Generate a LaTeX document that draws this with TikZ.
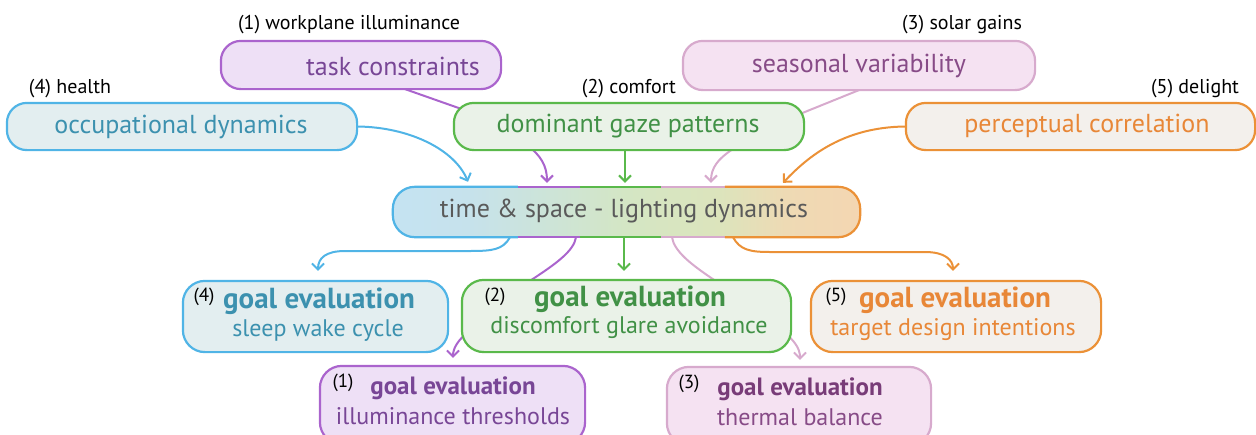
\documentclass[tikz,border=0pt]{standalone}
\usepackage{fontspec}
\setmainfont{PT Sans}
\usetikzlibrary{arrows.meta,calc}

% palette
\definecolor{bStroke}{RGB}{80,180,230}
\definecolor{bFill}{RGB}{227,238,240}
\definecolor{bText}{RGB}{60,145,175}
\definecolor{pStroke}{RGB}{170,100,205}
\definecolor{pFill}{RGB}{238,224,246}
\definecolor{pText}{RGB}{120,70,150}
\definecolor{gStroke}{RGB}{90,185,75}
\definecolor{gFill}{RGB}{234,242,232}
\definecolor{gText}{RGB}{65,145,70}
\definecolor{kStroke}{RGB}{215,170,205}
\definecolor{kFill}{RGB}{245,226,242}
\definecolor{kText}{RGB}{135,75,135}
\definecolor{kTitle}{RGB}{120,60,120}
\definecolor{oStroke}{RGB}{235,145,55}
\definecolor{oFill}{RGB}{243,240,236}
\definecolor{oText}{RGB}{232,135,55}
\definecolor{midText}{RGB}{90,90,90}

% stops of the blended fill of the central box
\definecolor{shA}{RGB}{197,227,242}
\definecolor{shB}{RGB}{198,226,236}
\definecolor{shC}{RGB}{205,228,215}
\definecolor{shD}{RGB}{212,230,196}
\definecolor{shE}{RGB}{220,228,188}
\definecolor{shF}{RGB}{238,218,180}
\definecolor{shG}{RGB}{244,214,178}
\pgfdeclarehorizontalshading{dynshade}{100bp}{%
  color(0bp)=(shA); color(25bp)=(shA); color(33bp)=(shB);
  color(42bp)=(shC); color(50bp)=(shD); color(60bp)=(shE);
  color(67bp)=(shF); color(75bp)=(shG); color(100bp)=(shG)}

\tikzset{
  box/.style={rectangle, rounded corners=20pt, line width=2.2pt, inner sep=0pt},
  goalbox/.style={rectangle, rounded corners=22pt, line width=2.2pt, inner sep=0pt},
  boxtext/.style={inner sep=0pt, font=\fontsize{26}{30}\selectfont},
  tag/.style={inner sep=0pt, font=\fontsize{20}{24}\selectfont, text=black},
  numtag/.style={inner sep=0pt, font=\fontsize{19}{22}\selectfont, text=black},
  goaltitle/.style={inner sep=0pt, font=\fontsize{29}{32}\selectfont\bfseries},
  goalsub/.style={inner sep=0pt, font=\fontsize{24}{28}\selectfont},
  smalltitle/.style={inner sep=0pt, font=\fontsize{25}{28}\selectfont\bfseries},
  link/.style={line width=2pt, -{Straight Barb[length=6pt,width=12pt]}},
}

\begin{document}
\begin{tikzpicture}[x=1pt,y=-1pt]
\useasboundingbox (0,0) rectangle (1256,434);
\clip (0,0) rectangle (1256,434);

% ---------- node frames (positions only, drawn later) ----------
\path
  (361,65)    node[box, minimum width=278pt, minimum height=46pt] (task) {}
  (859,65.5)  node[box, minimum width=350pt, minimum height=47pt] (seas) {}
  (182,126.5) node[box, minimum width=348pt, minimum height=45pt] (occ) {}
  (629,126.5) node[box, minimum width=348pt, minimum height=45pt] (gaze) {}
  (1080.5,126.5) node[box, minimum width=347pt, minimum height=45pt] (perc) {}
  (626.5,212) node[rectangle, minimum width=467pt, minimum height=50pt, inner sep=0pt] (ctr) {}
  (315.5,316.5) node[goalbox, minimum width=263pt, minimum height=69pt] (g4) {}
  (626.5,316) node[goalbox, minimum width=327pt, minimum height=70pt] (g2) {}
  (956,316.5) node[goalbox, minimum width=288pt, minimum height=69pt] (g5) {}
  (452.5,405) node[goalbox, minimum width=263pt, minimum height=76pt] (g1) {}
  (799,406)   node[goalbox, minimum width=262pt, minimum height=76pt] (g3) {};

% ---------- connectors (under the boxes) ----------
\draw[link, pStroke] ([xshift=44pt]task.south) -- (470,112)
  .. controls (520,140) and (547,150) .. ([xshift=-79.5pt,yshift=4pt]ctr.north);
\draw[link, kStroke] (seas.south) -- (790,118)
  .. controls (740,145) and (711,155) .. ([xshift=84.5pt,yshift=4pt]ctr.north);
\draw[link, gStroke] ([xshift=-4pt]gaze.south) -- ([xshift=-1.5pt,yshift=4pt]ctr.north);
\draw[link, bStroke] (occ.east)
  .. controls (410,127) and (455,150) .. ([xshift=-158.5pt,yshift=5pt]ctr.north);
\draw[link, oStroke] (perc.west)
  .. controls (840,127) and (805,160) .. ([xshift=156.5pt,yshift=4pt]ctr.north);

\draw[link, bStroke] ([xshift=-116.5pt]ctr.south)
  .. controls (503,250) and (492,251) .. (470,251) -- (345,251)
  .. controls (326,251) and (318,258) .. ([xshift=2.5pt,yshift=10pt]g4.north);
\draw[link, pStroke] ([xshift=-50.5pt]ctr.south)
  .. controls (572,265) and (500,290) .. (470,330)
  .. controls (458,340) and (453,348) .. ([xshift=0.5pt,yshift=8pt]g1.north);
\draw[link, gStroke] ([xshift=-2.5pt]ctr.south) -- ([xshift=-2.5pt,yshift=9pt]g2.north);
\draw[link, kStroke] ([xshift=45.5pt]ctr.south)
  .. controls (676,265) and (740,290) .. (775,325)
  .. controls (795,340) and (800,348) .. ([xshift=1pt,yshift=7pt]g3.north);
\draw[link, oStroke] ([xshift=106.5pt]ctr.south)
  .. controls (740,250) and (750,252) .. (770,252) -- (925,252)
  .. controls (945,252) and (953,260) .. ([xshift=-3pt,yshift=10pt]g5.north);

% ---------- boxes ----------
\foreach \n/\s/\f in {task/pStroke/pFill, seas/kStroke/kFill, occ/bStroke/bFill,
                      gaze/gStroke/gFill, perc/oStroke/oFill}{
  \draw[line width=2.2pt, rounded corners=20pt, draw=\s, fill=\f]
    (\n.north west) rectangle (\n.south east);
}
\foreach \n/\s/\f in {g4/bStroke/bFill, g2/gStroke/gFill, g5/oStroke/oFill,
                      g1/pStroke/pFill, g3/kStroke/kFill}{
  \draw[line width=2.2pt, rounded corners=22pt, draw=\s, fill=\f]
    (\n.north west) rectangle (\n.south east);
}

% central box: blended fill, border in five coloured stretches
\shade[shading=dynshade, rounded corners=22pt]
  (ctr.north west) rectangle (ctr.south east);
\draw[line width=2.2pt, bStroke, rounded corners=22pt]
  ([xshift=125pt]ctr.north west) -- (ctr.north west) -- (ctr.south west)
  -- ([xshift=125pt]ctr.south west);
\draw[line width=2.2pt, pStroke]
  ([xshift=125pt]ctr.north west) -- ([xshift=187pt]ctr.north west)
  ([xshift=125pt]ctr.south west) -- ([xshift=187pt]ctr.south west);
\draw[line width=2.2pt, gStroke]
  ([xshift=187pt]ctr.north west) -- ([xshift=268pt]ctr.north west)
  ([xshift=187pt]ctr.south west) -- ([xshift=268pt]ctr.south west);
\draw[line width=2.2pt, kStroke]
  ([xshift=268pt]ctr.north west) -- ([xshift=332pt]ctr.north west)
  ([xshift=268pt]ctr.south west) -- ([xshift=332pt]ctr.south west);
\draw[line width=2.2pt, oStroke, rounded corners=22pt]
  ([xshift=332pt]ctr.north west) -- (ctr.north east) -- (ctr.south east)
  -- ([xshift=332pt]ctr.south west);

% ---------- texts ----------
\node[boxtext, text=pText] (taskT) at (393,66) {task constraints};
\node[boxtext, text=kText] (seasT) at (859,66) {seasonal variability};
\node[boxtext, text=bText] (occT) at (181,127) {occupational dynamics};
\node[boxtext, text=gText] (gazeT) at (628,126) {dominant gaze patterns};
\node[boxtext, text=oText] (percT) at (1087,126) {perceptual correlation};
\node[boxtext, text=midText] (ctrT) at (624,211) {time \& space - lighting dynamics};

\node[tag] (tag1) at (349,25) {(1) workplane illuminance};
\node[tag] (tag3) at (962,25) {(3) solar gains};
\node[tag] (tag4) at (70,89) {(4) health};
\node[tag] (tag2) at (629,89) {(2) comfort};
\node[tag] (tag5) at (1195,89) {(5) delight};

\node[numtag] (n4) at (204,297) {(4)};
\node[goaltitle, text=bText] (g4a) at (319,301) {goal evaluation};
\node[goalsub, text=bText] (g4b) at (318,331) {sleep wake cycle};

\node[numtag] (n2) at (495,297) {(2)};
\node[goaltitle, text=gText] (g2a) at (630,299) {goal evaluation};
\node[goalsub, text=gText] (g2b) at (629,328) {discomfort glare avoidance};

\node[numtag] (n5) at (836,297) {(5)};
\node[goaltitle, text=oText] (g5a) at (955,300) {goal evaluation};
\node[goalsub, text=oText] (g5b) at (953,330) {target design intentions};

\node[numtag] (n1) at (343,383) {(1)};
\node[smalltitle, text=pText] (g1a) at (453,388) {goal evaluation};
\node[goalsub, text=pText] (g1b) at (453,416) {illuminance thresholds};

\node[numtag] (n3) at (689,384) {(3)};
\node[smalltitle, text=kTitle] (g3a) at (800,389) {goal evaluation};
\node[goalsub, text=kText] (g3b) at (800,417) {thermal balance};
\end{tikzpicture}
\end{document}
